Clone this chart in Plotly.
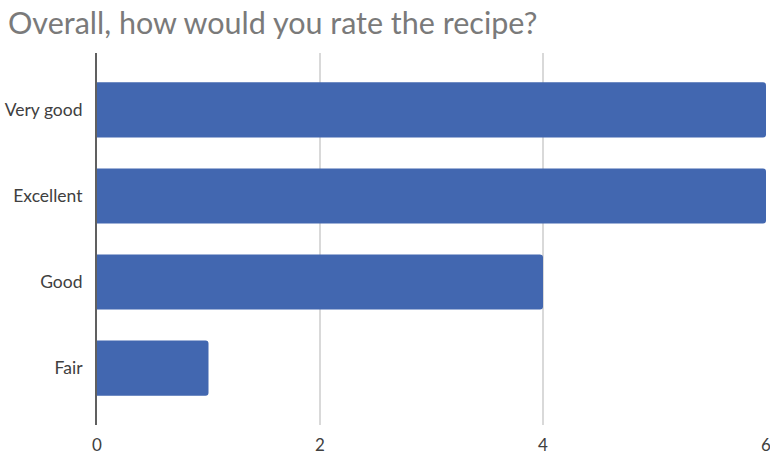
import plotly.graph_objects as go

categories = ["Very good", "Excellent", "Good", "Fair"]
counts = [6, 6, 4, 1]
x_ticks = [0, 2, 4, 6]
title_text = "Overall, how would you rate the recipe?"

fig = go.Figure(go.Bar(
    x=counts, y=categories, orientation="h",
    marker=dict(color="#4267b0", line=dict(width=0)),
    width=0.64,
))

fig.update_layout(
    width=770, height=457,
    margin=dict(l=97, r=4, t=53, b=32, autoexpand=False),
    paper_bgcolor="white", plot_bgcolor="white",
    title=dict(text=title_text, x=0.0104, xanchor="left", xref="container", yref="container",
               y=0.972, yanchor="top",
               font=dict(family="Lato, Open Sans, sans-serif", size=30.5, color="#7a7a7a")),
    barcornerradius=3,
    showlegend=False,
    font=dict(family="Lato, Open Sans, sans-serif", size=17.5, color="#404040"),
)
fig.update_xaxes(range=[0, 6], tickvals=x_ticks, showgrid=True, gridcolor="#d9d9d9", gridwidth=1.5,
                 zeroline=False, showline=False, ticks="", automargin=False,
                 ticklabeloverflow="allow", ticklabelstandoff=8,
                 tickfont=dict(size=17, color="#404040"))
fig.update_yaxes(categoryorder="array", categoryarray=categories, range=[3.66, -0.66],
                 showline=True, linecolor="#606060", linewidth=2, showgrid=False, automargin=False,
                 ticks="", ticklabelstandoff=9, tickfont=dict(size=17.5, color="#404040"))

fig.write_html("out.html", config={"displayModeBar": False},
               post_script="document.body.style.margin='0';document.body.style.overflow='hidden';")
